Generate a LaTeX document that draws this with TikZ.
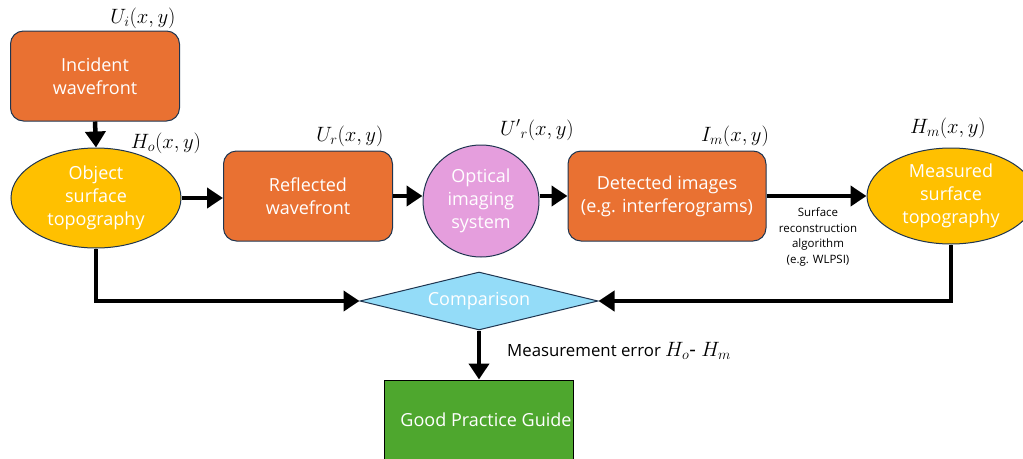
\documentclass[tikz,border=0pt]{standalone}
\usepackage{fontspec}
\setmainfont{Open Sans}
\usetikzlibrary{shapes.geometric,arrows.meta}
\definecolor{orng}{HTML}{E97132}
\definecolor{yel}{HTML}{FFC000}
\definecolor{pnk}{HTML}{E59EDD}
\definecolor{lblue}{HTML}{94DCF8}
\definecolor{grn}{HTML}{4EA72E}
\definecolor{edge}{HTML}{1F3550}
\tikzset{
  x=1pt,y=-1pt,
  txt/.style={text=white,font=\fontsize{18}{23}\selectfont,align=center,inner sep=0pt},
  rbox/.style={txt,draw=edge,line width=1pt,fill=orng,rounded corners=13pt,minimum width=169pt,minimum height=90pt},
  ell/.style={txt,draw=edge,line width=1pt,fill=yel,ellipse,minimum width=170pt,minimum height=100pt},
  arr/.style={line width=4.5pt,-{Triangle[length=16pt,width=20pt]}},
  lab/.style={font=\fontsize{20.5}{22}\selectfont,inner sep=0pt},
  small/.style={font=\fontsize{11.5}{15.5}\selectfont,align=center,inner sep=0pt}
}
\begin{document}
\begin{tikzpicture}
\useasboundingbox (0,0) rectangle (1023,458);
\begin{scope}
\clip (0,0) rectangle (1023,458);
\node[rbox] (inc) at (95,76) {Incident\\wavefront};
\node[ell] (obj) at (96,198) {Object\\surface\\topography};
\node[rbox] (refl) at (308,196) {Reflected\\wavefront};
\node[txt,draw=edge,line width=1pt,fill=pnk,ellipse,minimum width=116pt,minimum height=112pt] (opt) at (481,201) {Optical\\imaging\\system};
\node[rbox,minimum width=198pt] (det) at (667,196) {Detected images\\(e.g. interferograms)};
\node[ell,minimum width=168pt,minimum height=96pt] (meas) at (951,196) {Measured\\surface\\topography};
\node[txt,draw=edge,line width=1pt,fill=lblue,diamond,aspect=4.1,minimum width=238pt,minimum height=58pt] (cmp) at (479,301) {Comparison};
\node[txt,draw=black,line width=1pt,fill=grn,minimum width=189pt,minimum height=100pt] (gpg) at (479,430) {};
\node[txt] (gpgt) at (486,420) {Good Practice Guide};
\end{scope}

\node[lab] (li) at (143,18) {$U_i(x,y)$};
\node[lab] (lo) at (166,143) {$H_o(x,y)$};
\node[lab] (lr) at (350,136) {$U_r(x,y)$};
\node[lab] (lrp) at (537,130) {$U'{}_r(x,y)$};
\node[lab] (lm) at (735,136) {$I_m(x,y)$};
\node[lab] (lh) at (948,128) {$H_m(x,y)$};
\node[small] (alg) at (818,237) {Surface\\reconstruction\\algorithm\\(e.g. WLPSI)};
\node[anchor=west,inner sep=0pt,font=\fontsize{16.8}{18}\selectfont] (err) at (507,351) {Measurement error \fontsize{20.5}{20}\selectfont$H_o$- $H_m$};

\draw[arr] (inc.south) -- (obj.north);
\draw[arr] (obj.east) -- (refl.west|-obj.east);
\draw[arr] (refl.east) -- (opt.west|-refl.east);
\draw[arr] (opt.east|-det.west) -- (det.west);
\draw[arr] (det.east) -- (meas.west|-det.east);
\draw[arr] (obj.south) |- (cmp.west);
\draw[arr] (meas.south) |- (cmp.east);
\draw[arr] (cmp.south) -- (gpg.north);
\end{tikzpicture}
\end{document}
